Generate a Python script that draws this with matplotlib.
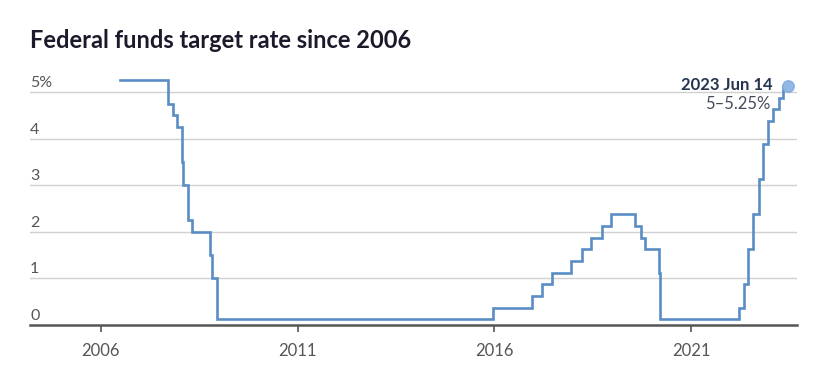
import matplotlib
matplotlib.use("Agg")
import matplotlib.pyplot as plt
import matplotlib.transforms as mtransforms
from datetime import datetime

# Data: effective target (single target pre-Dec 2008, midpoint of range afterwards)
dates = [
    "2006-06-29", "2007-09-18", "2007-10-31", "2007-12-11", "2008-01-22",
    "2008-01-30", "2008-03-18", "2008-04-30", "2008-10-08", "2008-10-29",
    "2008-12-16", "2015-12-17", "2016-12-15", "2017-03-16", "2017-06-15",
    "2017-12-14", "2018-03-22", "2018-06-14", "2018-09-27", "2018-12-20",
    "2019-08-01", "2019-09-19", "2019-10-31", "2020-03-04", "2020-03-16",
    "2022-03-17", "2022-05-05", "2022-06-16", "2022-07-28", "2022-09-22",
    "2022-11-03", "2022-12-15", "2023-02-02", "2023-03-23", "2023-05-04",
    "2023-06-14",
]
rates = [
    5.25, 4.75, 4.50, 4.25, 3.50,
    3.00, 2.25, 2.00, 1.50, 1.00,
    0.125, 0.375, 0.625, 0.875, 1.125,
    1.375, 1.625, 1.875, 2.125, 2.375,
    2.125, 1.875, 1.625, 1.125, 0.125,
    0.375, 0.875, 1.625, 2.375, 3.125,
    3.875, 4.375, 4.625, 4.875, 5.125,
    5.125,
]
y_ticks = [0, 1, 2, 3, 4, 5]
y_labels = ["0", "1", "2", "3", "4", "5%"]
x_tick_years = [2006, 2011, 2016, 2021]
title = "Federal funds target rate since 2006"
annot_date = "2023 Jun 14"
annot_value = "5\u20135.25%"

dts = [datetime.strptime(d, "%Y-%m-%d") for d in dates]

plt.rcParams['font.family'] = ['Lato', 'DejaVu Sans']

fig = plt.figure(figsize=(8.3, 3.78), dpi=100)
ax = fig.add_axes([30/830, 1-325/378, (797-30)/830, (325-68.7)/378])

line_color = "#5a8dc4"
ax.step(dts, rates, where="post", color=line_color, lw=1.9, solid_joinstyle="miter", zorder=3)
ax.scatter([dts[-1]], [rates[-1]], s=70, color="#92b8e4", edgecolor="#7eaadd", lw=0.8, zorder=4)

ax.set_xlim(datetime(2004, 3, 15), datetime(2023, 9, 10))
ax.set_ylim(0, 5.5)

for s in ["top", "right", "left"]:
    ax.spines[s].set_visible(False)
ax.spines["bottom"].set_color("#555555")
ax.spines["bottom"].set_linewidth(1.8)

ax.set_yticks([])
for yv in y_ticks[1:]:
    ax.axhline(yv, color="#d0d0d0", lw=1.0, zorder=1)

trans = mtransforms.blended_transform_factory(ax.transAxes, ax.transData) + \
    mtransforms.ScaledTranslation(0, 3.6/72, fig.dpi_scale_trans)
for yv, lab in zip(y_ticks, y_labels):
    ax.text(0.0, yv, lab, transform=trans, ha="left", va="baseline",
            fontsize=11.5, color="#555555")

ax.set_xticks([datetime(y, 1, 1) for y in x_tick_years])
ax.set_xticklabels([str(y) for y in x_tick_years], fontsize=12, color="#555555")
ax.tick_params(axis="x", length=5, width=1.2, color="#555555", pad=8)

ax.annotate(annot_date, xy=(dts[-1], rates[-1]), xytext=(-11, 1), textcoords="offset points",
            ha="right", va="center", fontsize=12, fontweight="bold", color="#253550")
ax.annotate(annot_value, xy=(dts[-1], rates[-1]), xytext=(-12, -12.5), textcoords="offset points",
            ha="right", va="center", fontsize=12, color="#444c5c")

fig.text(30/830, 1-40/378, title, ha="left", va="center", fontsize=17,
         fontweight="bold", color="#1a1a2a")

fig.savefig("out.png", dpi=100, facecolor="white")
